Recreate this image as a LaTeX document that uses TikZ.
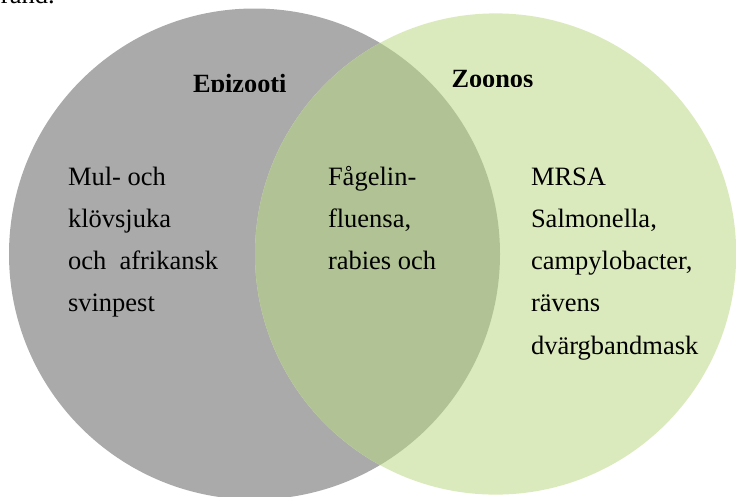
\documentclass[tikz,border=0pt]{standalone}
\usepackage{fontspec}
\setmainfont{Liberation Serif}
\definecolor{epigray}{HTML}{AAAAAA}
\definecolor{zoogreen}{HTML}{DBEABD}
\definecolor{lensgreen}{HTML}{B1C394}
\begin{document}
\begin{tikzpicture}[x=1pt,y=-1pt,
  body/.style={inner sep=0pt, outer sep=0pt, anchor=base west, align=left,
    font=\fontsize{26.5}{42.3}\selectfont},
  head/.style={inner sep=0pt, outer sep=0pt, anchor=base west,
    font=\fontsize{26.3}{30}\selectfont\bfseries}]
\useasboundingbox (0,0) rectangle (736,496);
\coordinate (cl) at (254.5,254);
\coordinate (cr) at (495.6,254);
\begin{scope}
\clip (0,0) rectangle (736,496);
\fill[epigray] (cl) circle[radius=245.5pt];
\fill[zoogreen] (cr) circle[radius=240.6pt];
\begin{scope}
\clip (cl) circle[radius=245.5pt];
\fill[lensgreen] (cr) circle[radius=240.6pt];
\end{scope}
\end{scope}
% cut-off text at top
\begin{scope}
\clip (0,0) rectangle (736,496);
\node[body] (top) at (1,3.5) {rand.};
\end{scope}
% headers, clipped at the bottom
\begin{scope}
\clip (150,40) rectangle (340,91.5);
\node[head] (epi) at (193,92.5) {Epizooti};
\end{scope}
\begin{scope}
\clip (420,40) rectangle (600,86.5);
\node[head] (zoo) at (451.5,87.5) {Zoonos};
\end{scope}
% column texts (base anchor = baseline of the last line)
\node[body] (left) at (68,311.9) {Mul- och\\klövsjuka\\och\ \ afrikansk\\svinpest};
\node[body] (mid) at (328,269.6) {Fågelin-\\fluensa,\\rabies och};
\node[body] (right) at (531,354.2) {MRSA\\Salmonella,\\campylobacter,\\rävens\\dvärgbandmask};
\end{tikzpicture}
\end{document}
